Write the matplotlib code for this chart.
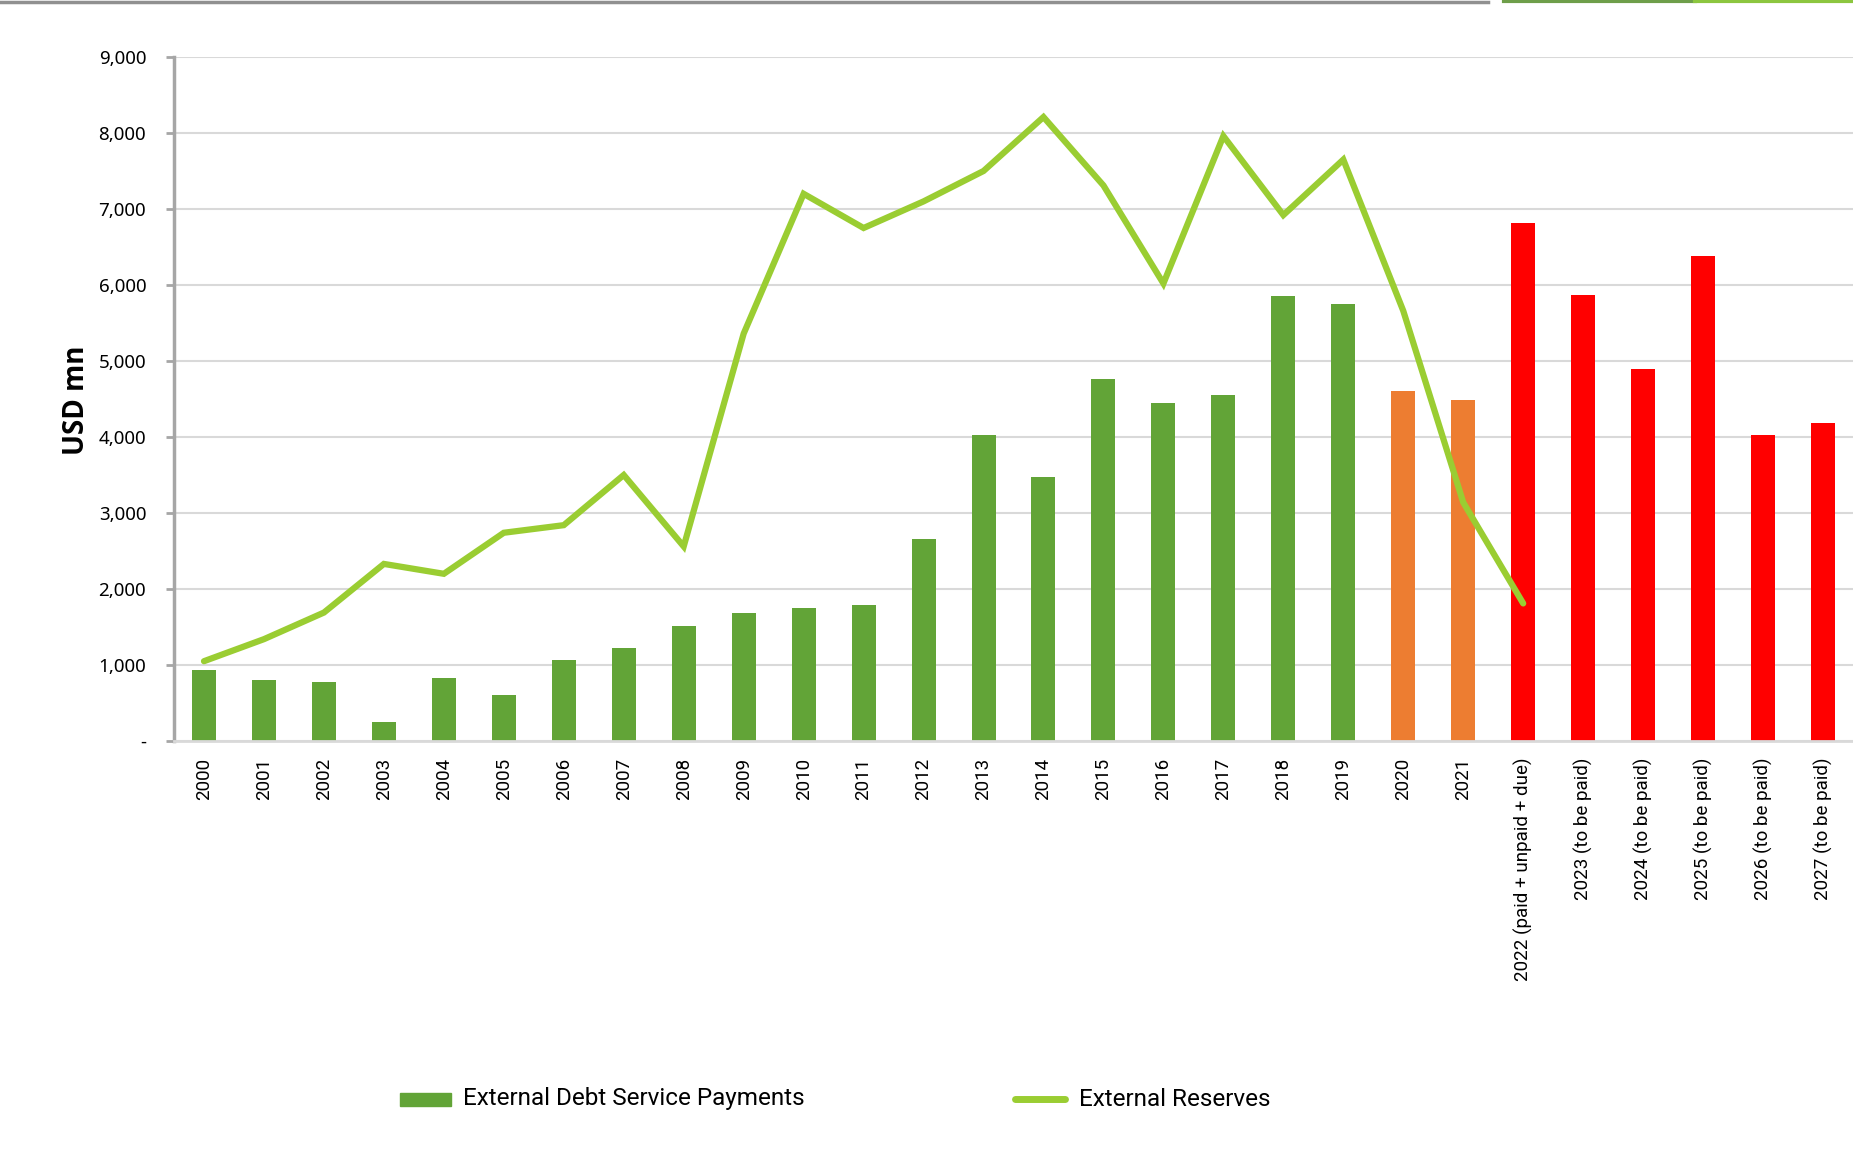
import matplotlib
matplotlib.use("Agg")
import matplotlib.pyplot as plt
from matplotlib.lines import Line2D
from matplotlib.patches import Rectangle
import numpy as np

categories = ["2000", "2001", "2002", "2003", "2004", "2005", "2006", "2007", "2008", "2009",
              "2010", "2011", "2012", "2013", "2014", "2015", "2016", "2017", "2018", "2019",
              "2020", "2021", "2022 (paid + unpaid + due)", "2023 (to be paid)", "2024 (to be paid)",
              "2025 (to be paid)", "2026 (to be paid)", "2027 (to be paid)"]
debt_service = [940, 800, 780, 250, 830, 610, 1070, 1220, 1510, 1690,
                1750, 1790, 2660, 4030, 3470, 4760, 4450, 4550, 5860, 5750,
                4600, 4490, 6820, 5870, 4900, 6380, 4020, 4190]
reserves = [1050, 1340, 1690, 2330, 2200, 2740, 2840, 3500, 2560, 5360,
            7200, 6750, 7100, 7500, 8210, 7310, 6020, 7960, 6920, 7650,
            5660, 3140, 1810]
bar_status = ["paid"] * 20 + ["partial"] * 2 + ["due"] * 6
status_colors = {"paid": "#62a437", "partial": "#ed7d31", "due": "#ff0000"}
yticks = [0, 1000, 2000, 3000, 4000, 5000, 6000, 7000, 8000, 9000]
ytick_labels = ["-", "1,000", "2,000", "3,000", "4,000", "5,000", "6,000", "7,000", "8,000", "9,000"]

W, H = 1853, 1170
fig = plt.figure(figsize=(W / 100, H / 100), dpi=100)
ax = fig.add_axes([174 / W, 1 - 741 / H, 1 - 174 / W, (741 - 57) / H])

x = np.arange(len(categories))
colors = [status_colors[s] for s in bar_status]
ax.bar(x, debt_service, width=0.4, color=colors, zorder=2)
ax.plot(np.arange(len(reserves)), reserves, color="#9acd32", lw=4.5, zorder=3,
        solid_capstyle="round", solid_joinstyle="miter")

ax.set_xlim(-0.5, len(categories) - 0.5)
ax.set_ylim(0, 9000)
ax.set_yticks(yticks)
ax.set_yticklabels(ytick_labels, fontsize=13.5, family=["Noto Sans", "DejaVu Sans"])
ax.yaxis.grid(True, color="#d9d9d9", lw=1.5, zorder=0)
ax.set_axisbelow(True)
ax.set_xticks(x)
ax.set_xticklabels(categories, rotation=90, fontsize=13.5, family=["Roboto", "DejaVu Sans"])
ax.tick_params(axis="x", length=0, pad=12)
ax.tick_params(axis="y", length=6, width=2, color="#a6a6a6", pad=14)
for s in ["top", "right"]:
    ax.spines[s].set_visible(False)
ax.spines["left"].set_color("#a6a6a6")
ax.spines["left"].set_linewidth(2.5)
ax.spines["bottom"].set_color("#d9d9d9")
ax.spines["bottom"].set_linewidth(2)

fig.text(77 / W, 1 - 400 / H, "USD mn", rotation=90, fontsize=20, fontweight="bold",
         ha="center", va="center", family=["Open Sans", "DejaVu Sans"])

# legend
fig.add_artist(Rectangle((400 / W, 1 - 1106 / H), 51 / W, 13 / H,
                         transform=fig.transFigure, color="#62a437"))
fig.text(463 / W, 1 - 1099 / H, "External Debt Service Payments", fontsize=17.5,
         va="center", ha="left", family=["Roboto", "DejaVu Sans"])
fig.add_artist(Line2D([1015 / W, 1065 / W], [1 - 1099 / H, 1 - 1099 / H],
                      transform=fig.transFigure, color="#9acd32", lw=5, solid_capstyle="round"))
fig.text(1079 / W, 1 - 1099 / H, "External Reserves", fontsize=17.5,
         va="center", ha="left", family=["Roboto", "DejaVu Sans"])

# top border artefact
fig.add_artist(Line2D([0, 1488 / W], [1 - 2 / H, 1 - 2 / H], transform=fig.transFigure,
                      color="#909090", lw=2.5))
fig.add_artist(Line2D([1504 / W, 1695 / W], [1 - 1 / H, 1 - 1 / H], transform=fig.transFigure,
                      color="#6e9e4a", lw=3))
fig.add_artist(Line2D([1695 / W, 1], [1 - 1 / H, 1 - 1 / H], transform=fig.transFigure,
                      color="#8cc63f", lw=3))

fig.savefig("out.png", dpi=100)
